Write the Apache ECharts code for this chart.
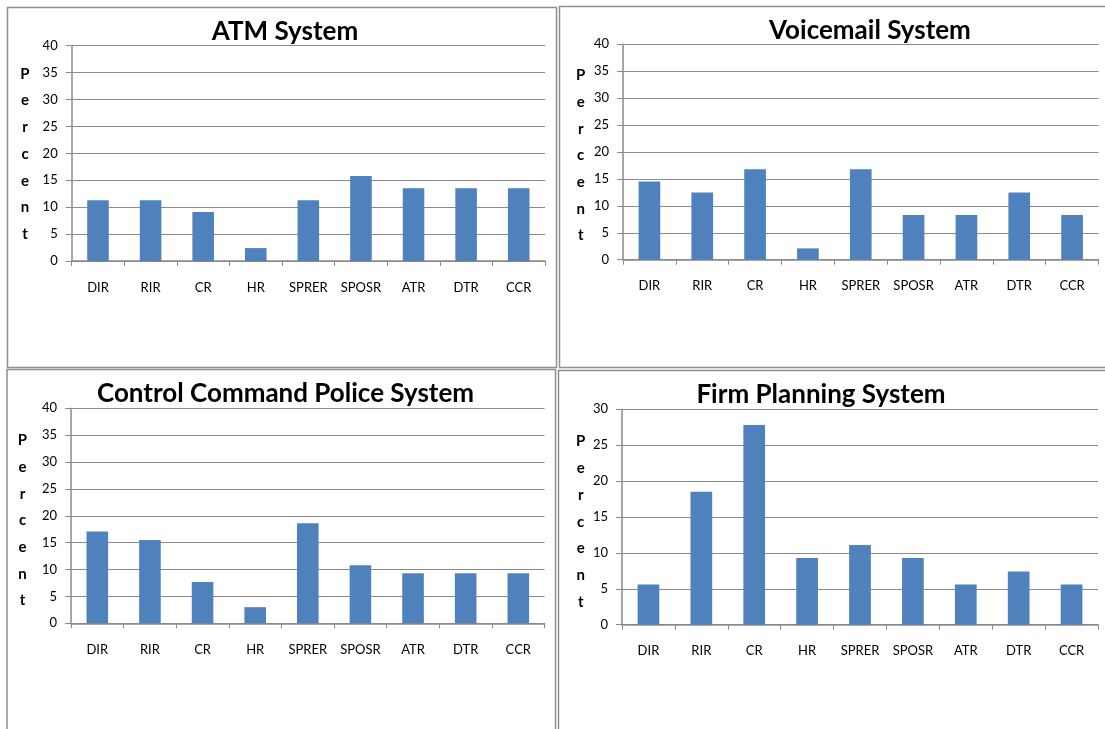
<!DOCTYPE html>
<html>
<head>
<meta charset="utf-8">
<script src="https://cdn.jsdelivr.net/npm/echarts@6/dist/echarts.min.js"></script>
<style>
html,body{margin:0;padding:0;background:#fff;}
#chart{width:1105px;height:729px;}
</style>
</head>
<body>
<div id="chart"></div>
<script>
const categories = ['DIR','RIR','CR','HR','SPRER','SPOSR','ATR','DTR','CCR'];
const atmValues = [11.3, 11.3, 9.1, 2.4, 11.3, 15.8, 13.5, 13.5, 13.5];
const voicemailValues = [14.5, 12.5, 16.8, 2.1, 16.8, 8.3, 8.3, 12.5, 8.3];
const ccpValues = [17.1, 15.5, 7.7, 3.0, 18.6, 10.8, 9.3, 9.3, 9.3];
const firmValues = [5.6, 18.5, 27.8, 9.3, 11.1, 9.3, 5.6, 7.4, 5.6];
const titles = ['ATM System','Voicemail System','Control Command Police System','Firm Planning System'];
const yMax = [40, 40, 40, 30];
const yInterval = 5;
const yAxisName = 'Percent';

const FONT = 'Lato, "Open Sans", sans-serif';
const BAR = '#4F81BD';
const GRIDC = '#8a8a8a';

const panels = [
  {grid:{left:71.7, top:45.7, right:560, bottom:468}, title:[285, 32], name:[25, 154], values:atmValues},
  {grid:{left:623, top:44.3, right:6.5, bottom:469.3}, title:[870, 31], name:[580.7, 155.5], values:voicemailValues},
  {grid:{left:71, top:408.3, right:560.4, bottom:105.7}, title:[285.5, 394], name:[22.5, 520.5], values:ccpValues},
  {grid:{left:622, top:409.3, right:7, bottom:104.3}, title:[821, 395], name:[580.7, 521.7], values:firmValues}
];

const nameText = yAxisName.split('').join('\n');

const option = {
  animation:false,
  backgroundColor:'#fff',
  grid: panels.map(p => Object.assign({containLabel:false}, p.grid)),
  xAxis: panels.map((p,i) => ({
    type:'category', gridIndex:i, data:categories,
    axisLine:{show:true, lineStyle:{color:GRIDC, width:1.5}},
    axisTick:{show:true, length:5, lineStyle:{color:GRIDC}},
    axisLabel:{color:'#000', fontFamily:FONT, fontSize:13, margin:20, interval:0},
    splitLine:{show:false}
  })),
  yAxis: panels.map((p,i) => ({
    type:'value', gridIndex:i, min:0, max:yMax[i], interval:yInterval,
    axisLine:{show:true, lineStyle:{color:GRIDC, width:1.5}},
    axisTick:{show:true, length:6, lineStyle:{color:GRIDC}},
    axisLabel:{color:'#000', fontFamily:FONT, fontSize:13, margin:14},
    splitLine:{show:true, lineStyle:{color:GRIDC, width:1}}
  })),
  series: panels.map((p,i) => ({
    type:'bar', xAxisIndex:i, yAxisIndex:i, data:p.values, barWidth:'41%',
    itemStyle:{color:BAR}
  })),
  graphic: [
    {type:'rect', shape:{x:7.5, y:7.5, width:549, height:360}, style:{fill:null, stroke:'#8f8f8f', lineWidth:1.5}, silent:true},
    {type:'rect', shape:{x:559.5, y:6.5, width:560, height:361}, style:{fill:null, stroke:'#8f8f8f', lineWidth:1.5}, silent:true},
    {type:'rect', shape:{x:7, y:369.5, width:548.5, height:380}, style:{fill:null, stroke:'#8f8f8f', lineWidth:1.5}, silent:true},
    {type:'rect', shape:{x:558.5, y:370.5, width:560, height:380}, style:{fill:null, stroke:'#8f8f8f', lineWidth:1.5}, silent:true}
  ].concat(panels.map((p,i) => ({
    type:'text', x:p.title[0], y:p.title[1], silent:true,
    style:{text:titles[i], fontFamily:FONT, fontWeight:'bold', fontSize:26, fill:'#000', align:'center', verticalAlign:'middle'}
  }))).concat(panels.map((p,i) => ({
    type:'text', x:p.name[0], y:p.name[1], silent:true,
    style:{text:nameText, fontFamily:FONT, fontWeight:'bold', fontSize:15, lineHeight:26.7, fill:'#000', align:'center', verticalAlign:'middle'}
  })))
};

const chart = echarts.init(document.getElementById('chart'), null, {renderer:'canvas'});
chart.setOption(option);
</script>
</body>
</html>
